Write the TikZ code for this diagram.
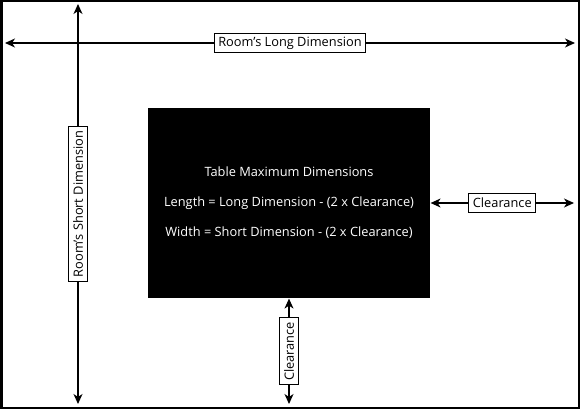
\documentclass[tikz,border=0pt]{standalone}
\usepackage{fontspec}
\setmainfont{Open Sans}
\usetikzlibrary{arrows.meta,positioning}

\begin{document}
\begin{tikzpicture}[x=1pt,y=-1pt,line width=1.2pt,
    >={Stealth[length=10pt,width=9pt,inset=3pt]},
    dim/.style={draw,fill=white,line width=0.8pt,inner xsep=4pt,inner ysep=1.5pt,
      minimum height=19.5pt,font=\fontsize{12.8}{14}\selectfont},
    tbl/.style={fill=black,text=white,minimum width=282pt,minimum height=190pt,
      align=center,font=\fontsize{12.8}{30}\selectfont}]
        \useasboundingbox (0,0) rectangle (580,409);
        \draw[line width=2.5pt] (1.25,1.25) rectangle (578.75,407.75);
        \node[tbl] (table) at (289,203) {Table Maximum Dimensions\\
          Length = Long Dimension - (2 x Clearance)\\
          Width = Short Dimension - (2 x Clearance)};
        \coordinate (long_l) at (5,43);
        \coordinate (long_r) at (575,43);
        \coordinate (short_t) at (78,4);
        \coordinate (short_b) at (78,404);
        \coordinate (clr_r) at (574,203);
        \coordinate (clr_b) at (289,404);
        \path[<->] (long_l) edge node[dim] {Room's Long Dimension} (long_r);
        \path[<->] (short_b) edge node[dim,rotate=90] {Room's Short Dimension} (short_t);
        \path[<->] (table.east) edge node[dim] {Clearance} (clr_r);
        \path[<->] (clr_b) edge node[dim,rotate=90] {Clearance} (table.south);
      \end{tikzpicture}
\end{document}
